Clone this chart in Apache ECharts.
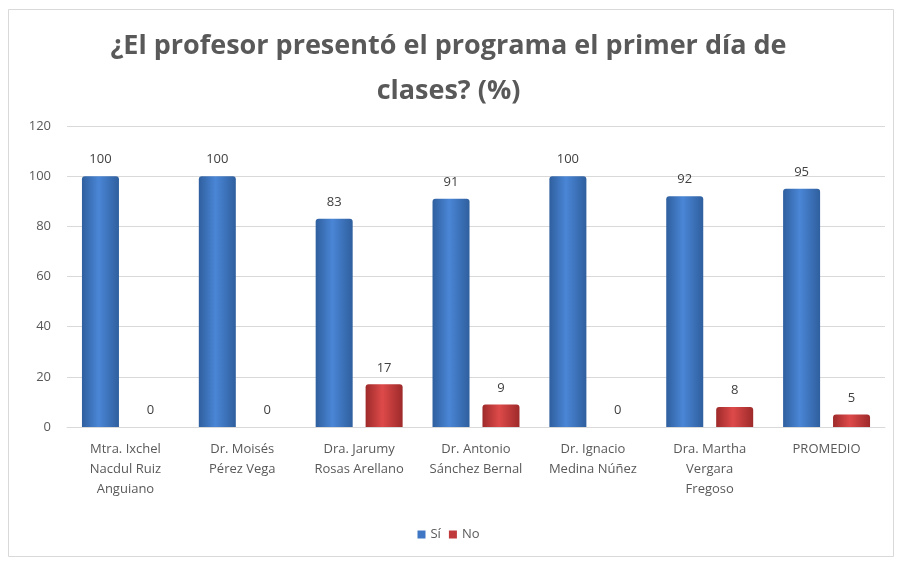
<!DOCTYPE html>
<html>
<head>
<meta charset="utf-8">
<script src="https://cdn.jsdelivr.net/npm/echarts@6/dist/echarts.min.js"></script>
<style>
  html, body { margin: 0; padding: 0; background: #fff; }
  #chart { width: 897px; height: 562px; }
</style>
</head>
<body>
<div id="chart"></div>
<script>
  // datos de la gráfica
  var profesores = [
    'Mtra. Ixchel\nNacdul Ruiz\nAnguiano',
    'Dr. Moisés\nPérez Vega',
    'Dra. Jarumy\nRosas Arellano',
    'Dr. Antonio\nSánchez Bernal',
    'Dr. Ignacio\nMedina Núñez',
    'Dra. Martha\nVergara\nFregoso',
    'PROMEDIO'
  ];
  var si = [100, 100, 83, 91, 100, 92, 95];
  var no = [0, 0, 17, 9, 0, 8, 5];
  var yTicks = [0, 20, 40, 60, 80, 100, 120];

  var chart = echarts.init(document.getElementById('chart'));

  function grad(light, dark) {
    return new echarts.graphic.LinearGradient(0, 0, 1, 0, [
      { offset: 0, color: dark },
      { offset: 0.45, color: light },
      { offset: 1, color: dark }
    ]);
  }

  var fontFam = '"Open Sans", "Noto Sans", sans-serif';

  var option = {
    backgroundColor: '#fff',
    textStyle: { fontFamily: fontFam },
    graphic: [{
      type: 'rect',
      shape: { x: 8.5, y: 9.5, width: 885, height: 547 },
      style: { fill: 'none', stroke: '#d9d9d9', lineWidth: 1 },
      silent: true
    }],
    title: {
      text: '¿El profesor presentó el programa el primer día de\nclases? (%)',
      left: 'center',
      top: 19,
      textStyle: {
        fontFamily: fontFam,
        fontSize: 27,
        fontWeight: 'bold',
        color: '#595959',
        lineHeight: 45
      }
    },
    legend: {
      bottom: 16,
      left: 'center',
      itemWidth: 8,
      itemHeight: 8,
      itemGap: 8,
      icon: 'rect',
      textStyle: { color: '#595959', fontSize: 13, fontFamily: fontFam },
      data: [
        { name: 'Sí', itemStyle: { color: '#3f77c4' } },
        { name: 'No', itemStyle: { color: '#c0393b' } }
      ]
    },
    grid: { left: 67, right: 12, top: 126, bottom: 135 },
    xAxis: {
      type: 'category',
      data: profesores,
      axisTick: { show: false },
      axisLine: { lineStyle: { color: '#d9d9d9' } },
      axisLabel: {
        color: '#595959',
        fontSize: 13,
        lineHeight: 20,
        interval: 0,
        margin: 12
      }
    },
    yAxis: {
      type: 'value',
      min: yTicks[0],
      max: yTicks[yTicks.length - 1],
      interval: 20,
      axisLine: { show: false },
      axisTick: { show: false },
      splitLine: { lineStyle: { color: '#d9d9d9' } },
      axisLabel: { color: '#595959', fontSize: 13, margin: 16 }
    },
    series: [
      {
        name: 'Sí',
        type: 'bar',
        data: si,
        barWidth: 37,
        barGap: '35%',
        itemStyle: {
          color: grad('#4a86d6', '#2f5f9e'),
          borderRadius: [3, 3, 0, 0]
        },
        label: {
          show: true,
          position: 'top',
          distance: 10,
          color: '#404040',
          fontSize: 13
        }
      },
      {
        name: 'No',
        type: 'bar',
        data: no,
        barWidth: 37,
        itemStyle: {
          color: grad('#de4a4a', '#9e2a2a'),
          borderRadius: [3, 3, 0, 0]
        },
        label: {
          show: true,
          position: 'top',
          distance: 10,
          color: '#404040',
          fontSize: 13
        }
      }
    ]
  };

  chart.setOption(option);
</script>
</body>
</html>
